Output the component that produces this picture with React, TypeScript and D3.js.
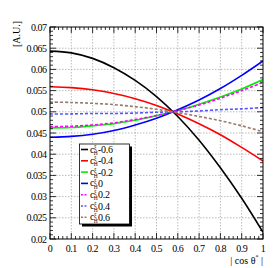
import React from "react";
import * as d3 from "d3";

const xPoints = [0, 0.1, 0.2, 0.3, 0.4, 0.5, 0.6, 0.7, 0.8, 0.9, 1.0];
const sM06 = [0.0643, 0.0639, 0.0626, 0.0604, 0.0574, 0.0536, 0.0489, 0.0433, 0.0368, 0.0296, 0.0216];
const sM04 = [0.0559, 0.0557, 0.0552, 0.0543, 0.0531, 0.0515, 0.0495, 0.0472, 0.0446, 0.0416, 0.0384];
const sM02 = [0.0462, 0.0463, 0.0467, 0.0472, 0.048, 0.0491, 0.0503, 0.0518, 0.0535, 0.0554, 0.0576];
const s00 = [0.044, 0.0442, 0.0447, 0.0456, 0.0469, 0.0485, 0.0505, 0.0528, 0.0555, 0.0586, 0.062];
const sP02 = [0.0465, 0.0466, 0.0469, 0.0474, 0.0482, 0.0491, 0.0503, 0.0516, 0.0532, 0.055, 0.0569];
const sP04 = [0.0495, 0.0495, 0.0496, 0.0496, 0.0497, 0.0499, 0.05, 0.0502, 0.0505, 0.0507, 0.051];
const sP06 = [0.0523, 0.0522, 0.052, 0.0517, 0.0512, 0.0506, 0.0498, 0.0489, 0.0479, 0.0467, 0.0453];

const seriesLabels = ["-0.6", "-0.4", "-0.2", "0", "0.2", "0.4", "0.6"];
const seriesData = [sM06, sM04, sM02, s00, sP02, sP04, sP06];
const seriesColors = ["#000000", "#ff0000", "#00ee00", "#0000ff", "#ff00ff", "#5555ff", "#9a7a6a"];
const seriesDashed = [false, false, false, false, true, true, true];

const xTicks = [0, 0.1, 0.2, 0.3, 0.4, 0.5, 0.6, 0.7, 0.8, 0.9, 1];
const xTickLabels = ["0", "0.1", "0.2", "0.3", "0.4", "0.5", "0.6", "0.7", "0.8", "0.9", "1"];
const yTicks = [0.02, 0.025, 0.03, 0.035, 0.04, 0.045, 0.05, 0.055, 0.06, 0.065, 0.07];
const yTickLabels = ["0.02", "0.025", "0.03", "0.035", "0.04", "0.045", "0.05", "0.055", "0.06", "0.065", "0.07"];

const L = 50, R = 263, T = 27, B = 239;
const font = "'Liberation Serif', 'Times New Roman', serif";

export default function App() {
  const x = d3.scaleLinear().domain([0, 1]).range([L, R]);
  const y = d3.scaleLinear().domain([0.02, 0.07]).range([B, T]);
  const line = d3
    .line<number>()
    .x((_, i) => x(xPoints[i]))
    .y((d) => y(d))
    .curve(d3.curveCatmullRom);

  const xMinor = d3.range(0, 1.0001, 0.02);
  const yMinor = d3.range(0.02, 0.07001, 0.001);

  const legX = 79.5, legY = 144, legW = 50, legH = 80;
  const rowH = 11.3;

  return (
    <svg width={276} height={268} style={{ position: "absolute", left: 0, top: 0 }}>
      <rect x={0} y={0} width={276} height={268} fill="#fff" />
      {xTicks.slice(1, -1).map((t) => (
        <line key={"gx" + t} x1={x(t)} x2={x(t)} y1={T} y2={B} stroke="#aaa" strokeWidth={0.8} strokeDasharray="1.5,1.5" />
      ))}
      {yTicks.slice(1, -1).map((t) => (
        <line key={"gy" + t} x1={L} x2={R} y1={y(t)} y2={y(t)} stroke="#aaa" strokeWidth={0.8} strokeDasharray="1.5,1.5" />
      ))}
      <defs>
        <clipPath id="clip">
          <rect x={L} y={T} width={R - L} height={B - T} />
        </clipPath>
      </defs>
      <g clipPath="url(#clip)">
        {seriesData.map((s, i) => (
          <path
            key={i}
            d={line(s) || ""}
            fill="none"
            stroke={seriesColors[i]}
            strokeWidth={1.6}
            strokeDasharray={seriesDashed[i] ? "3,2" : undefined}
          />
        ))}
      </g>
      <rect x={L} y={T} width={R - L} height={B - T} fill="none" stroke="#000" strokeWidth={1} />
      {xMinor.map((t, i) => {
        const major = i % 5 === 0;
        const len = major ? 6 : 3;
        return (
          <g key={"xt" + i}>
            <line x1={x(t)} x2={x(t)} y1={B} y2={B - len} stroke="#000" strokeWidth={0.8} />
            <line x1={x(t)} x2={x(t)} y1={T} y2={T + len} stroke="#000" strokeWidth={0.8} />
          </g>
        );
      })}
      {yMinor.map((t, i) => {
        const major = i % 5 === 0;
        const len = major ? 6 : 3;
        return (
          <g key={"yt" + i}>
            <line x1={L} x2={L + len} y1={y(t)} y2={y(t)} stroke="#000" strokeWidth={0.8} />
            <line x1={R} x2={R - len} y1={y(t)} y2={y(t)} stroke="#000" strokeWidth={0.8} />
          </g>
        );
      })}
      {xTicks.map((t, i) => (
        <text key={"xl" + i} x={x(t)} y={252} textAnchor="middle" fontFamily={font} fontSize={10} letterSpacing={-0.5}>
          {xTickLabels[i]}
        </text>
      ))}
      {yTicks.map((t, i) => (
        <text key={"yl" + i} x={46.5} y={y(t) + 3.6} textAnchor="end" fontFamily={font} fontSize={10} letterSpacing={-0.5}>
          {yTickLabels[i]}
        </text>
      ))}
      <text transform={`translate(19.5,21) rotate(-90)`} textAnchor="end" fontFamily={font} fontSize={10}>
        [A.U.]
      </text>
      <text x={R} y={264} textAnchor="end" fontFamily={font} fontSize={10}>
        | cos θ
        <tspan dy={-5} fontSize={6}>*</tspan>
        <tspan dy={5}> |</tspan>
      </text>
      <rect x={legX + 2.5} y={legY + 2.5} width={legW} height={legH} fill="#000" />
      <rect x={legX} y={legY} width={legW} height={legH} fill="#fff" stroke="#000" strokeWidth={0.8} />
      {seriesLabels.map((lab, i) => {
        const cy = legY + 5.5 + i * rowH;
        return (
          <g key={"lg" + i}>
            <line
              x1={legX + 1.5}
              x2={legX + 8.5}
              y1={cy}
              y2={cy}
              stroke={seriesColors[i]}
              strokeWidth={1.6}
              strokeDasharray={seriesDashed[i] ? "2,1.5" : undefined}
            />
            <text x={legX + 10.5} y={cy + 3} fontFamily={font} fontSize={10}>
              c
            </text>
            <text x={legX + 14.3} y={cy + 5.5} fontFamily={font} fontSize={5.5}>
              H
            </text>
            <text x={legX + 14.5} y={cy - 0.5} fontFamily={font} fontSize={6}>
              ξ
            </text>
            <text x={legX + 18.5} y={cy + 3.5} fontFamily={font} fontSize={10} letterSpacing={-0.3}>
              {lab}
            </text>
          </g>
        );
      })}
    </svg>
  );
}
